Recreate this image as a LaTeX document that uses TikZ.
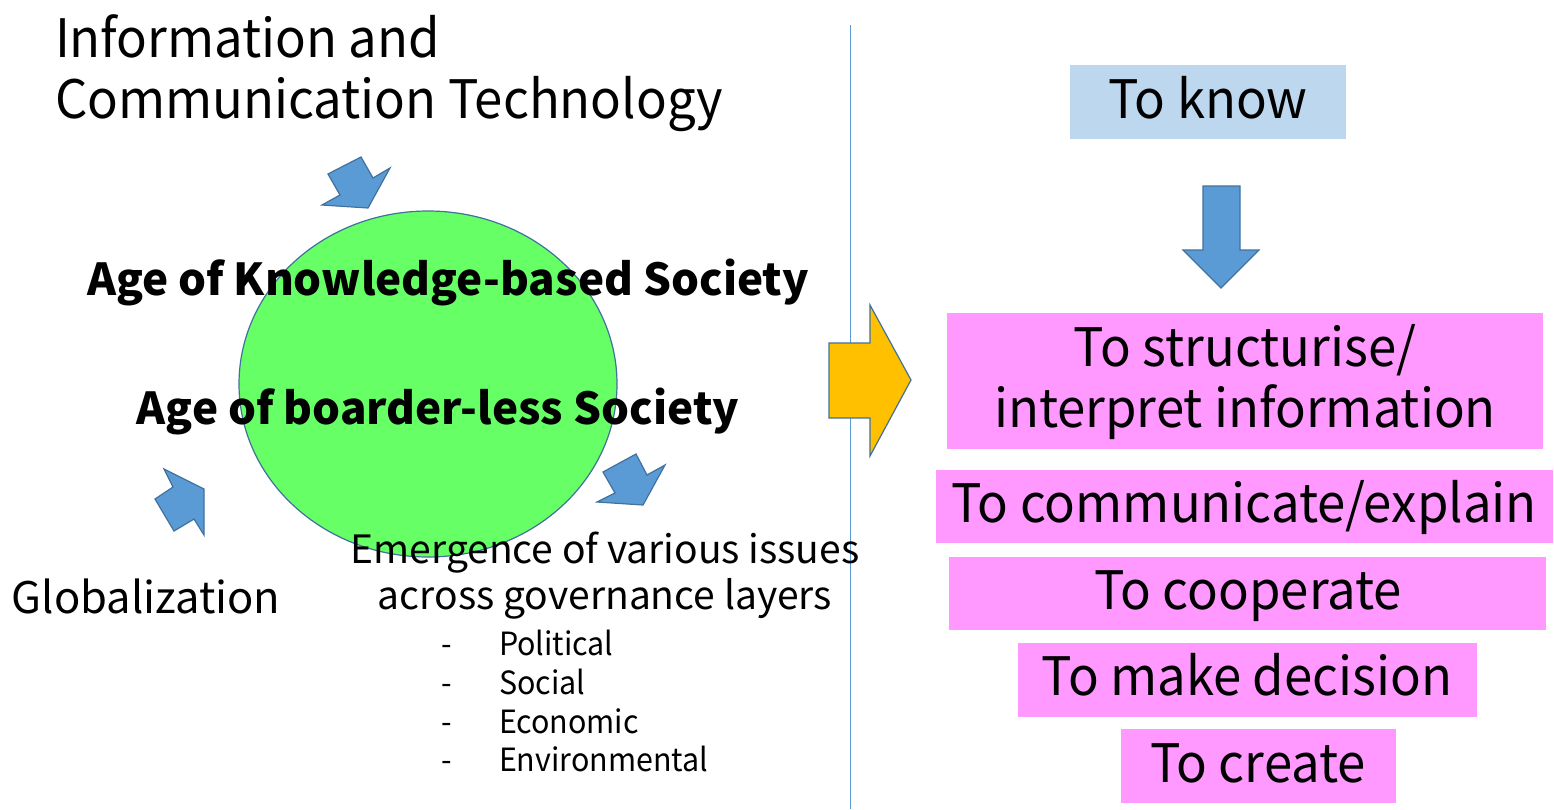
\documentclass[tikz,border=0pt]{standalone}
\usepackage{fontspec}
\usetikzlibrary{shapes.geometric}
\setmainfont{Noto Sans CJK JP}
\newfontfamily\bigfont[FakeStretch=0.96]{Noto Sans CJK JP}
\newfontfamily\listfont[FakeStretch=0.95]{Noto Sans CJK JP}
\begin{document}
\begin{tikzpicture}[x=1pt,y=-1pt,
  blk/.style={fill=blockblue,draw=edgeblue,line width=1.2pt,line join=miter},
  pinkbox/.style={fill=pinkfill,draw=none},
  txt/.style={inner sep=0pt,outer sep=0pt},
  big/.style={txt,font=\bigfont\fontsize{53}{60}\selectfont},
  boldtxt/.style={txt,font=\fontsize{44}{50}\selectfont\bfseries},
  listtxt/.style={txt,anchor=base west,font=\listfont\fontsize{32}{38}\selectfont},
]
\definecolor{blockblue}{HTML}{5B9BD5}
\definecolor{edgeblue}{HTML}{41719C}
\definecolor{pinkfill}{HTML}{FF99FF}
\definecolor{lightblue}{HTML}{BDD7EE}
\definecolor{greenfill}{HTML}{66FF66}
\definecolor{orangefill}{HTML}{FFC000}
\useasboundingbox (0,0) rectangle (1554,809);
\fill[white] (0,0) rectangle (1554,809);
% divider
\coordinate (divtop) at (850,25);
\coordinate (divbot) at (850,809);
\draw[blockblue,line width=1pt] (divtop) -- (divbot);
% circle
\node[draw=edgeblue,fill=greenfill,line width=1.2pt,ellipse,minimum width=378pt,minimum height=346pt,inner sep=0pt] (circ) at (428,384) {};
% blue arrows around
\draw[blk] (328,174) -- (361,157) -- (373,178) -- (390,168) -- (368,208) -- (322,205) -- (340,195) -- cycle;
\draw[blk] (164,469) -- (204,489) -- (204,535) -- (194,519) -- (174,531) -- (155,499) -- (173,487) -- cycle;
\draw[blk] (603,472) -- (636,454) -- (647,475) -- (665,465) -- (643,505) -- (597,502) -- (615,493) -- cycle;
% orange arrow
\draw[fill=orangefill,draw=edgeblue,line width=1.2pt] (829,343) -- (870,343) -- (870,305) -- (911,380) -- (870,456) -- (870,418) -- (829,418) -- cycle;
% left texts
\node[big,anchor=base west] (ict1) at (55,57) {Information and};
\node[big,anchor=base west] (ict2) at (55,118) {Communication Technology};
\node[boldtxt,anchor=base] (aks) at (448,295) {Age of Knowledge-based Society};
\node[boldtxt,anchor=base] (abs) at (438,424) {Age of boarder-less Society};
\node[txt,anchor=base west,font=\fontsize{43.5}{50}\selectfont] (glob) at (12,613) {Globalization};
\node[txt,anchor=base,font=\fontsize{39}{44}\selectfont] (em1) at (605,563) {Emergence of various issues};
\node[txt,anchor=base,font=\fontsize{39}{44}\selectfont] (em2) at (605,609) {across governance layers};
\foreach \y/\t/\n in {655/Political/pol,694/Social/soc,733/Economic/eco,771/Environmental/env}{
  \node[listtxt] (d\n) at (441,\y) {-};
  \node[listtxt] (\n) at (499,\y) {\t};
}
% right side
\node[fill=lightblue,minimum width=276pt,minimum height=74pt,inner sep=0pt,anchor=north west] (know) at (1070,65) {};
\node[big,anchor=base] (knowt) at (1208,118) {To know};
\draw[blk] (1203,186) -- (1240,186) -- (1240,250) -- (1259,250) -- (1221,288) -- (1183,250) -- (1203,250) -- cycle;
\node[pinkbox,minimum width=596pt,minimum height=136pt,anchor=north west] (b1) at (947,313) {};
\node[big,anchor=base] (b1a) at (1245,366) {To structurise/};
\node[big,anchor=base] (b1b) at (1245,427) {interpret information};
\node[pinkbox,minimum width=617pt,minimum height=73pt,anchor=north west] (b2) at (936,470) {};
\node[big,anchor=base] (b2t) at (1244,522) {To communicate/explain};
\node[pinkbox,minimum width=597pt,minimum height=73pt,anchor=north west] (b3) at (949,557) {};
\node[big,anchor=base] (b3t) at (1248,609) {To cooperate};
\node[pinkbox,minimum width=459pt,minimum height=74pt,anchor=north west] (b4) at (1018,643) {};
\node[big,anchor=base] (b4t) at (1247,695) {To make decision};
\node[pinkbox,minimum width=275pt,minimum height=74pt,anchor=north west] (b5) at (1121,729) {};
\node[big,anchor=base] (b5t) at (1258,782) {To create};
\end{tikzpicture}
\end{document}
